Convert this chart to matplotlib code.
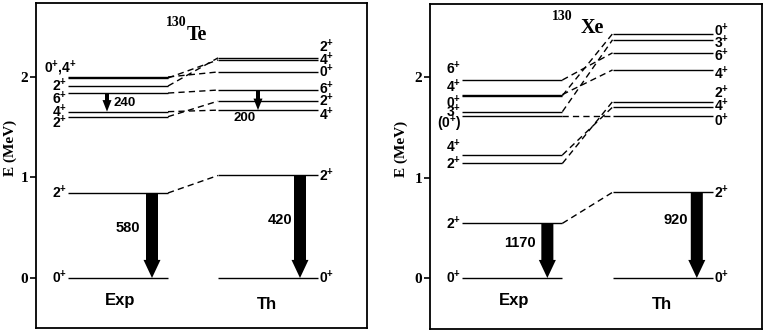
import matplotlib
matplotlib.use('Agg')
import matplotlib.pyplot as plt

plt.rcParams['font.family'] = 'Liberation Sans'
plt.rcParams['font.weight'] = 'bold'
plt.rcParams['mathtext.fontset'] = 'custom'
plt.rcParams['mathtext.rm'] = 'Liberation Sans:bold'
plt.rcParams['mathtext.it'] = 'Liberation Sans:bold'
plt.rcParams['mathtext.bf'] = 'Liberation Sans:bold'

# ---- 130Te ----
te_exp_E = [0.0, 0.846, 1.605, 1.655, 1.84, 1.91, 1.99, 2.0]
te_exp_J = ['$0^{+}$', '$2^{+}$', '$2^{+}$', '$4^{+}$', '$6^{+}$', '$2^{+}$', '',
            '$0^{+}$,$4^{+}$']
te_th_E = [0.0, 1.02, 1.67, 1.76, 1.87, 2.05, 2.17, 2.19]
te_th_J = ['$0^{+}$', '$2^{+}$', '$4^{+}$', '$2^{+}$', '$6^{+}$', '$0^{+}$',
           '$4^{+}$', '$2^{+}$']
te_links = [(1, 1), (2, 3), (3, 2), (4, 4), (5, 7), (6, 6), (7, 5)]
# (side, from level, to level, label)
te_gammas = [('exp', 1, 0, '580'), ('exp', 4, 3, '240'),
             ('th', 1, 0, '420'), ('th', 4, 2, '200')]

# ---- 130Xe ----
xe_exp_E = [0.0, 0.544, 1.14, 1.224, 1.61, 1.655, 1.815, 1.825, 1.97]
xe_exp_J = ['$0^{+}$', '$2^{+}$', '$2^{+}$', '$4^{+}$', '$(0^{+})$', '$3^{+}$',
            '$0^{+}$', '$4^{+}$', '$6^{+}$']
xe_th_E = [0.0, 0.853, 1.61, 1.70, 1.755, 2.07, 2.24, 2.37, 2.43]
xe_th_J = ['$0^{+}$', '$2^{+}$', '$0^{+}$', '$4^{+}$', '$2^{+}$', '$4^{+}$',
           '$6^{+}$', '$3^{+}$', '$0^{+}$']
xe_links = [(1, 1), (2, 4), (3, 3), (4, 2), (5, 7), (6, 8), (7, 5), (8, 6)]
xe_gammas = [('exp', 1, 0, '1170'), ('th', 1, 0, '920')]

PX = 100.5  # pixels per MeV in the original layout

# label offsets in pixels (up = positive)
te_exp_dy = [0, 0, -6, 0, -5.5, 0, 0, 9]
te_exp_dx = [0, 0, 0, 0, 0, 0, 0, 10]
te_th_dy = [0, 0, -5, 0, 1.5, 0, 0, 11]
xe_exp_dy = [0, 0, 0, 8, -8, 0, -7, 8, 11]
xe_exp_dx = [0] * 9
xe_th_dy = [0, 0, -4, 1, 9, -4, -3, -3, 3]

# arrow x and label positions (x in px from axes left, y in MeV)
te_arrow_x = [116, 71, 264, 222]
te_arrow_lab = [(92, 0.50), (89, 1.74), (244, 0.577), (209, 1.59)]
xe_arrow_x = [117, 266]
xe_arrow_lab = [(90, 0.35), (245, 0.577)]

EXP_X = (32, 132)
TH_X = (182, 282)


def draw_panel(ax, exp_E, exp_J, exp_dy, exp_dx, th_E, th_J, th_dy, links,
               gammas, arr_x, arr_lab, ylim):
    for E, J, dy, dx in zip(exp_E, exp_J, exp_dy, exp_dx):
        ax.plot(EXP_X, [E, E], color='k', lw=1.0, solid_capstyle='butt')
        if J:
            ax.text(EXP_X[0] - 1 + dx, E + dy / PX, J, ha='right',
                    va='center', fontsize=10)
    for E, J, dy in zip(th_E, th_J, th_dy):
        ax.plot(TH_X, [E, E], color='k', lw=1.0, solid_capstyle='butt')
        ax.text(TH_X[1] + 1, E + dy / PX, J, ha='left',
                va='center', fontsize=10)
    for i, j in links:
        ax.plot([EXP_X[1], TH_X[0]], [exp_E[i], th_E[j]], color='k', lw=1.0,
                dashes=(4.5, 3))
    for (side, a, b, lab), x, (lx, ly) in zip(gammas, arr_x, arr_lab):
        lev = exp_E if side == 'exp' else th_E
        big = (lev[a] - lev[b]) > 0.5
        if big:
            w, hw, hl, fs = 12, 17, 0.18, 10.5
        else:
            w, hw, hl, fs = 4, 9, 0.115, 9.5
        ax.arrow(x, lev[a], 0, lev[b] - lev[a], width=w, head_width=hw,
                 head_length=hl, length_includes_head=True, fc='k', ec='k',
                 lw=0)
        ax.text(lx, ly, lab, ha='center', va='center', fontsize=fs)
    ax.text(84, -0.22, 'Exp', ha='center', va='center', fontsize=12)
    ax.text(231, -0.26, 'Th', ha='center', va='center', fontsize=12)
    ax.set_xlim(0, 331)
    ax.set_ylim(*ylim)
    ax.set_xticks([])
    ax.set_yticks([0, 1, 2])
    ax.set_yticklabels(['0', '1', '2'], fontfamily='Liberation Serif',
                       fontweight='bold', fontsize=11)
    ax.tick_params(axis='y', direction='out', length=4.5, width=1.2, pad=1)
    for s in ax.spines.values():
        s.set_linewidth(1.3)
    ax.set_ylabel('E (MeV)', fontfamily='Liberation Serif', fontweight='bold',
                  fontsize=11)


fig = plt.figure(figsize=(7.65, 3.33), dpi=100)
ax1 = fig.add_axes([36 / 765, 5 / 333, 331 / 765, 325 / 333])
ax2 = fig.add_axes([430 / 765, 4 / 333, 332 / 765, 325 / 333])

draw_panel(ax1, te_exp_E, te_exp_J, te_exp_dy, te_exp_dx, te_th_E, te_th_J,
           te_th_dy, te_links, te_gammas, te_arrow_x, te_arrow_lab,
           (-0.4975, 2.736))
draw_panel(ax2, xe_exp_E, xe_exp_J, xe_exp_dy, xe_exp_dx, xe_th_E, xe_th_J,
           xe_th_dy, xe_links, xe_gammas, xe_arrow_x, xe_arrow_lab,
           (-0.507, 2.726))
ax1.yaxis.set_label_coords(-0.058, 0.554)
ax2.yaxis.set_label_coords(-0.066, 0.554)

# nucleus titles
ax1.text(151, 2.51, '130', ha='right', va='baseline', fontsize=10,
         fontfamily='Liberation Serif', fontweight='bold')
ax1.text(151, 2.368, 'Te', ha='left', va='baseline', fontsize=14.5,
         fontfamily='Liberation Serif', fontweight='bold')
ax2.text(142, 2.567, '130', ha='right', va='baseline', fontsize=10,
         fontfamily='Liberation Serif', fontweight='bold')
ax2.text(150, 2.44, 'Xe', ha='left', va='baseline', fontsize=14.5,
         fontfamily='Liberation Serif', fontweight='bold')

fig.savefig('out.png', dpi=100)
